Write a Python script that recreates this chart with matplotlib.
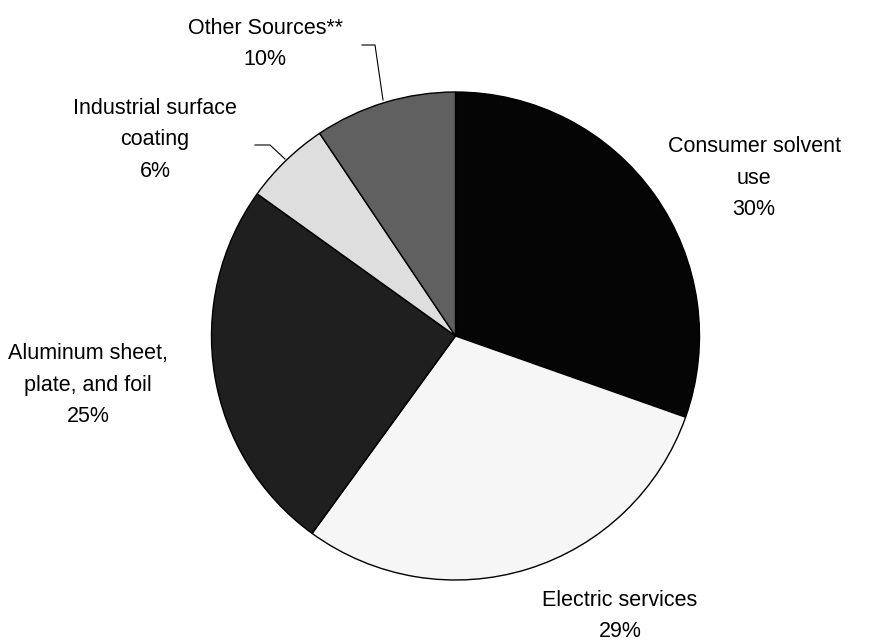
import matplotlib
matplotlib.use("Agg")
import matplotlib.pyplot as plt

labels = ["Consumer solvent\nuse", "Electric services", "Aluminum sheet,\nplate, and foil",
          "Industrial surface\ncoating", "Other Sources**"]
values = [30.4, 29.6, 24.9, 5.7, 9.4]
pct_labels = ["30%", "29%", "25%", "6%", "10%"]
colors = ["#050505", "#f6f6f6", "#1f1f1f", "#dedede", "#606060"]

W, H = 876, 643
fig = plt.figure(figsize=(W / 100, H / 100), dpi=100)
ax = fig.add_axes([0, 0, 1, 1])

cx, cy, r = 455.5, H - 336, 244
ax.pie(values, colors=colors, startangle=90, counterclock=False,
       center=(cx, cy), radius=r,
       wedgeprops=dict(edgecolor="black", linewidth=1.0))
ax.set_xlim(0, W)
ax.set_ylim(0, H)
ax.set_aspect("equal")
ax.axis("off")

font = dict(family=["Liberation Sans", "DejaVu Sans"], size=15.5)
label_pos = [(754, 178), (620, 616), (88, 385), (155, 140), (265, 44)]
for lab, p, (x, y) in zip(labels, pct_labels, label_pos):
    ax.text(x, H - y, f"{lab}\n{p}", ha="center", va="center",
            linespacing=1.66, **font)

# leader lines
ax.plot([362, 375, 383], [H - 45, H - 45, H - 100], color="black", lw=0.8)
ax.plot([255, 270, 285], [H - 145, H - 145, H - 159], color="black", lw=0.8)

fig.savefig("out.png", dpi=100)
